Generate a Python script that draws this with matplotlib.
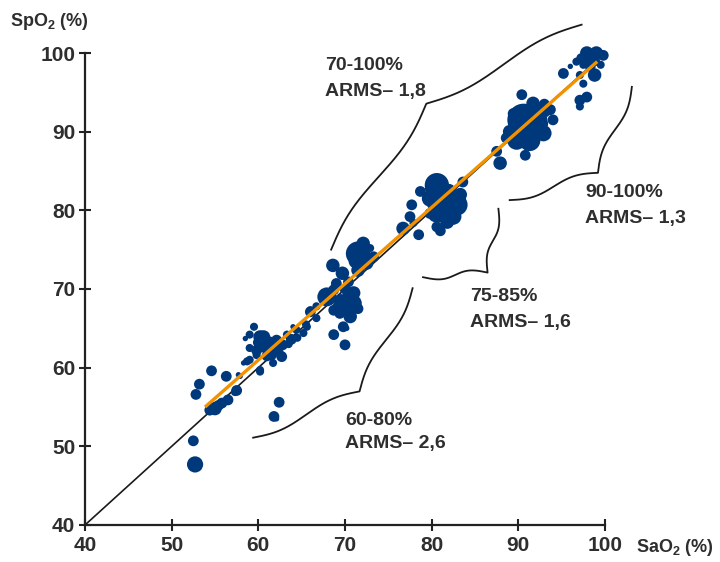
import numpy as np
import matplotlib
matplotlib.use('Agg')
import matplotlib.pyplot as plt

FONT = ['Liberation Sans', 'DejaVu Sans']
plt.rcParams['font.family'] = FONT
plt.rcParams['font.weight'] = 'bold'
plt.rcParams['mathtext.fontset'] = 'custom'
plt.rcParams['mathtext.rm'] = 'Liberation Sans:bold'
plt.rcParams['mathtext.bf'] = 'Liberation Sans:bold'

# ---------------- data ----------------
sao2 = [52.7, 52.5, 62.4, 61.8, 62.1, 52.8, 53.2, 54.6, 56.3, 57.9,
        55.0, 55.8, 56.5, 54.4, 55.4, 57.5, 57.3,
        59.5, 59.0, 58.5, 60.2, 59.8, 59.0, 61.0, 62.1, 63.3, 64.4,
        59.0, 58.3, 60.2, 61.5, 62.7, 61.7, 60.6, 61.3, 65.2, 66.0, 66.7,
        62.7, 59.8, 60.2, 58.7, 63.5, 64.5, 62.5, 65.5, 64.0, 57.7,
        60.5, 61.8, 60.0, 62.8, 63.8, 61.0,
        65.6, 66.0, 66.7, 67.9, 68.7, 69.0, 70.4, 69.7, 68.6, 70.6, 71.0,
        70.2, 71.0, 71.5, 70.6, 69.4, 68.7, 69.8, 70.2, 68.7, 70.0,
        71.5, 72.1, 72.9, 73.3, 71.5, 72.5,
        69.5, 70.0, 71.2, 72.0, 70.8, 69.2,
        76.7, 77.9, 80.6, 83.6, 78.7, 77.7, 77.5, 78.5, 81.0, 81.3, 82.9,
        82.5, 79.8, 81.7, 80.2, 79.8, 82.3, 80.6, 83.3, 80.0,
        81.5, 82.0, 80.5, 81.8, 83.0,
        90.6, 90.6, 91.3, 89.8, 92.1, 92.9, 91.7, 93.7, 89.4, 90.4, 88.6,
        87.5, 87.9, 90.8, 92.9, 94.0, 91.5, 89.9,
        91.0, 90.0, 92.0, 91.5, 89.0, 92.5, 93.0,
        95.2, 96.0, 97.9, 99.0, 98.3, 98.8, 97.1, 97.5, 97.1, 97.9, 97.1,
        99.8, 98.5, 96.7, 97.3, 98.0, 98.8, 97.5, 99.5]
spo2 = [47.7, 50.7, 55.6, 53.8, 53.5, 56.6, 57.9, 59.6, 58.9, 58.9,
        54.8, 55.5, 55.9, 54.6, 55.2, 57.1, 56.9,
        65.2, 64.2, 63.7, 63.9, 62.2, 62.5, 62.7, 63.5, 64.2, 64.8,
        61.0, 60.6, 59.5, 61.6, 61.4, 60.6, 63.9, 63.1, 64.4, 67.1, 67.8,
        61.6, 61.6, 59.7, 60.8, 63.0, 63.8, 62.5, 65.5, 65.2, 59.1,
        62.8, 62.2, 63.2, 62.9, 63.6, 61.5,
        65.2, 67.3, 66.3, 69.0, 69.9, 70.7, 70.9, 72.0, 73.0, 69.0, 69.5,
        67.8, 68.2, 67.5, 66.5, 66.9, 67.3, 65.2, 65.0, 64.2, 62.9,
        74.5, 75.8, 75.2, 74.1, 72.4, 73.3,
        68.5, 70.0, 73.5, 74.0, 68.0, 67.8,
        77.7, 78.4, 83.2, 83.6, 82.4, 80.7, 79.2, 76.9, 77.4, 79.8, 80.7,
        79.2, 81.5, 81.7, 80.9, 79.6, 79.0, 77.9, 82.0, 82.8,
        81.0, 82.5, 79.5, 78.5, 81.5,
        91.5, 90.2, 88.9, 88.9, 91.5, 92.8, 93.6, 92.8, 92.3, 94.7, 89.2,
        87.5, 86.0, 87.0, 89.8, 91.5, 90.5, 90.3,
        91.0, 89.5, 90.0, 92.0, 90.0, 91.0, 93.5,
        97.4, 98.3, 100.0, 100.0, 98.3, 97.2, 97.2, 96.1, 94.0, 94.4, 93.2,
        99.7, 99.3, 98.9, 99.3, 99.5, 99.0, 98.5, 98.5]
bubble = [6, 4, 4, 4, 2, 4, 4, 4, 4, 2,
          5, 4, 4, 4, 4, 4, 3,
          3, 3, 2, 5, 4, 3, 5, 4, 3, 3,
          3, 2, 3, 4, 4, 3, 5, 5, 3, 4, 3,
          3, 3, 3, 3, 3, 3, 3, 3, 2, 2,
          5, 5, 4, 4, 4, 4,
          3, 3, 3, 7, 4, 4, 4, 5, 5, 6, 5,
          6, 6, 4, 5, 4, 4, 4, 2, 4, 4,
          9, 5, 3, 4, 5, 5,
          5, 4, 5, 6, 6, 4,
          5, 3, 9, 4, 4, 4, 4, 4, 4, 8, 8,
          6, 6, 6, 5, 4, 5, 4, 5, 5,
          7, 5, 6, 5, 6,
          12, 10, 8, 7, 8, 6, 5, 4, 4, 4, 4,
          4, 5, 4, 6, 4, 10, 7,
          12, 8, 7, 7, 5, 6, 4,
          4, 2, 5, 5, 4, 5, 3, 3, 4, 4, 3,
          4, 5, 3, 4, 5, 4, 3, 3]

fit_sao2 = [53.85, 99.1]
fit_spo2 = [55.0, 98.9]
identity = [40, 100]
ticks = [40, 50, 60, 70, 80, 90, 100]

ranges = ['70-100%', '90-100%', '75-85%', '60-80%']
arms = ['1,8', '1,3', '1,6', '2,6']

BLUE = '#00387c'
ORANGE = '#f39200'
TXT = '#2e2e2e'
FS = 14

fig = plt.figure(figsize=(7.2, 5.62), dpi=100)
ax = fig.add_axes([85 / 720, 37 / 562, 520 / 720, 472 / 562])
ax.set_xlim(40, 100)
ax.set_ylim(40, 100)

ax.plot(identity, identity, color='#1a1a1a', lw=1.2, zorder=1, clip_on=False)
sizes = [(1.44 * 1.35 * r) ** 2 for r in bubble]
ax.scatter(sao2, spo2, s=sizes, color=BLUE, edgecolors='none', zorder=2, clip_on=False)
ax.plot(fit_sao2, fit_spo2, color=ORANGE, lw=2.4, zorder=3, solid_capstyle='butt')

ax.set_xticks(ticks)
ax.set_yticks(ticks)
for sp in ['top', 'right']:
    ax.spines[sp].set_visible(False)
for sp in ['left', 'bottom']:
    ax.spines[sp].set_linewidth(1.6)
    ax.spines[sp].set_color('#222222')
ax.tick_params(direction='inout', length=8, width=1.5, color='#222222',
               labelsize=FS + 1, labelcolor=TXT)
ax.tick_params(axis='x', pad=4)
ax.tick_params(axis='y', pad=3)

fig.text(10 / 720, 1 - 21 / 562, r'SpO$_\mathregular{2}$ (%)', fontsize=FS - 1,
         color=TXT, ha='left', va='center')
fig.text(714 / 720, 1 - 548 / 562, r'SaO$_\mathregular{2}$ (%)', fontsize=FS - 1,
         color=TXT, ha='right', va='center')


def brace(p1, p2, depth, side, k=7):
    T = ax.transData
    a = T.transform(p1)
    b = T.transform(p2)
    d = b - a
    L = np.hypot(*d)
    u = d / L
    n = np.array([-u[1], u[0]]) * side
    h = L / 2
    s = np.linspace(0, h, 200)
    beta = k / h
    yh = 1 / (1 + np.exp(-beta * s)) + 1 / (1 + np.exp(-beta * (s - h)))
    yh = (yh - yh[0]) / (yh[-1] - yh[0])
    sf = np.concatenate([s, L - s[::-1]])
    yf = np.concatenate([yh, yh[::-1]])
    pts = a + np.outer(sf, u) + np.outer(yf * depth, n)
    dp = T.inverted().transform(pts)
    ax.plot(dp[:, 0], dp[:, 1], color='#1a1a1a', lw=1.3, clip_on=False, zorder=4)


brace((68.4, 75.0), (97.3, 103.6), 45, +1)
brace((89.0, 81.3), (103.1, 95.7), 40, -1)
brace((79.0, 71.5), (87.7, 80.2), 40, -1)
brace((59.4, 51.1), (77.8, 70.1), 39, -1)

label_pos = [(67.7, 98.4, 95.1), (97.7, 82.3, 78.9), (84.4, 69.0, 65.8), (70.0, 53.3, 50.4)]
for (x, y1, y2), r, a in zip(label_pos, ranges, arms):
    ax.text(x, y1, r, fontsize=FS, color=TXT, ha='left', va='center', clip_on=False)
    ax.text(x, y2, 'ARMS\u2013 ' + a, fontsize=FS, color=TXT, ha='left', va='center', clip_on=False)

fig.savefig('out.png', dpi=100)
